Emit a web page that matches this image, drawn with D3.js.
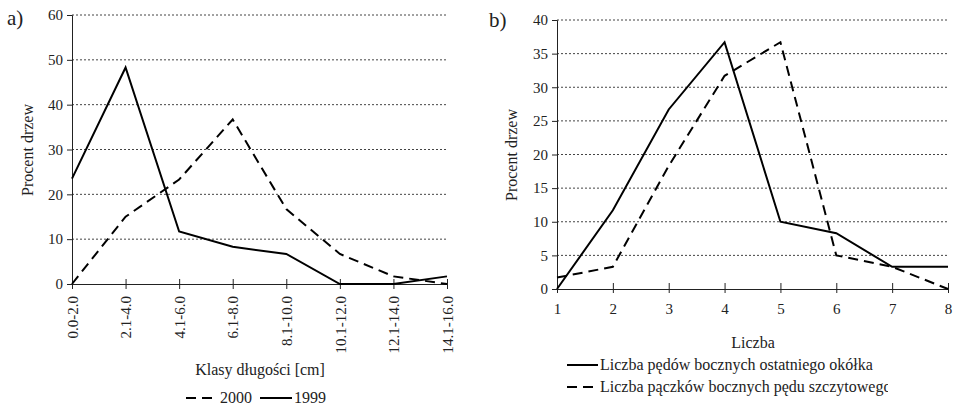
<!DOCTYPE html>
<html>
<head>
<meta charset="utf-8">
<script src="https://cdn.jsdelivr.net/npm/d3@7"></script>
<style>
  body { margin: 0; background: #fff; }
  svg text { font-family: "Liberation Serif", "DejaVu Serif", serif !important; }
</style>
</head>
<body>
<svg width="955" height="407" font-family="Liberation Serif"></svg>
<script>

// chart a) data
const classes = ['0.0-2.0', '2.1-4.0', '4.1-6.0', '6.1-8.0', '8.1-10.0', '10.1-12.0', '12.1-14.0', '14.1-16.0'];
const y1999 = [23.5, 48.3, 11.7, 8.3, 6.7, 0, 0, 1.7];
const y2000 = [0, 15, 23.3, 36.7, 16.7, 6.7, 1.7, 0];
const ticksA = [0, 10, 20, 30, 40, 50, 60];

// chart b) data
const counts = [1, 2, 3, 4, 5, 6, 7, 8];
const pedy = [0, 11.7, 26.7, 36.7, 10, 8.3, 3.3, 3.3];
const paczki = [1.7, 3.3, 18.3, 31.7, 36.7, 5, 3.3, 0];
const ticksB = [0, 5, 10, 15, 20, 25, 30, 35, 40];

const svg = d3.select('svg');
const fs = 15;   // tick labels
const fl = 16;   // titles, legend
const ink = '#222';

// ---------- a) ----------
const xA = d3.scalePoint().domain(classes).range([72, 447]);
const yA = d3.scaleLinear().domain([0, 60]).range([284, 15]);

const gA = svg.append('g');

// grid
gA.selectAll('.grid')
    .data(ticksA.filter(d => d > 0))
    .enter()
    .append('line')
        .attr('x1', 72).attr('x2', 447)
        .attr('y1', d => yA(d)).attr('y2', d => yA(d))
        .attr('stroke', '#444')
        .attr('stroke-width', 1)
        .attr('stroke-dasharray', '2,2');

// y axis
gA.append('g')
    .attr('transform', 'translate(72,0)')
    .call(d3.axisLeft(yA).tickValues(ticksA).tickSize(5).tickPadding(4))
    .attr('font-family', null).attr('font-size', fs)
    .call(g => g.selectAll('text').attr('fill', ink))
    .call(g => g.selectAll('line, path').attr('stroke', ink));

// x axis
const xAxA = gA.append('g')
    .attr('transform', 'translate(0,284)')
    .call(d3.axisBottom(xA).tickSize(0).tickSizeOuter(0).tickPadding(0))
    .attr('font-family', null).attr('font-size', fs)
    .call(g => g.selectAll('path').attr('stroke', ink));
xAxA.selectAll('.tick line').attr('y1', -5).attr('y2', 5).attr('stroke', ink);
xAxA.selectAll('.tick text')
    .attr('fill', ink)
    .attr('text-anchor', 'end')
    .attr('dy', '0.35em')
    .attr('transform', 'translate(0,12) rotate(-90)');

const lineA = vals => d3.line().x((d, i) => xA(classes[i])).y(d => yA(d))(vals);

gA.append('path')
    .attr('d', lineA(y2000))
    .attr('fill', 'none').attr('stroke', '#000').attr('stroke-width', 2)
    .attr('stroke-dasharray', '10,6');
gA.append('path')
    .attr('d', lineA(y1999))
    .attr('fill', 'none').attr('stroke', '#000').attr('stroke-width', 2);

gA.append('text').attr('x', 7).attr('y', 25).attr('font-size', 21).attr('fill', ink).text('a)');
gA.append('text')
    .attr('transform', 'translate(33,150) rotate(-90)')
    .attr('text-anchor', 'middle').attr('font-size', fl).attr('fill', ink)
    .text('Procent drzew');
gA.append('text')
    .attr('x', 260).attr('y', 375)
    .attr('text-anchor', 'middle').attr('font-size', fl).attr('fill', ink)
    .text('Klasy długości [cm]');

// legend a)
gA.append('line').attr('x1', 186).attr('x2', 218).attr('y1', 398).attr('y2', 398)
    .attr('stroke', '#000').attr('stroke-width', 2).attr('stroke-dasharray', '10,6');
gA.append('text').attr('x', 220).attr('y', 403).attr('font-size', fl).attr('fill', ink).text('2000');
gA.append('line').attr('x1', 260).attr('x2', 292).attr('y1', 398).attr('y2', 398)
    .attr('stroke', '#000').attr('stroke-width', 2);
gA.append('text').attr('x', 294).attr('y', 403).attr('font-size', fl).attr('fill', ink).text('1999');

// ---------- b) ----------
const xB = d3.scaleLinear().domain([1, 8]).range([557, 948]);
const yB = d3.scaleLinear().domain([0, 40]).range([289, 20]);

const gB = svg.append('g');

gB.selectAll('.grid')
    .data(ticksB.filter(d => d > 0))
    .enter()
    .append('line')
        .attr('x1', 557).attr('x2', 948)
        .attr('y1', d => yB(d)).attr('y2', d => yB(d))
        .attr('stroke', '#444')
        .attr('stroke-width', 1)
        .attr('stroke-dasharray', '2,2');

gB.append('g')
    .attr('transform', 'translate(557,0)')
    .call(d3.axisLeft(yB).tickValues(ticksB).tickSize(5).tickPadding(4))
    .attr('font-family', null).attr('font-size', fs)
    .call(g => g.selectAll('text').attr('fill', ink))
    .call(g => g.selectAll('line, path').attr('stroke', ink));

const xAxB = gB.append('g')
    .attr('transform', 'translate(0,289)')
    .call(d3.axisBottom(xB).tickValues(counts).tickFormat(d3.format('d')).tickSize(0).tickSizeOuter(0).tickPadding(14))
    .attr('font-family', null).attr('font-size', fs)
    .call(g => g.selectAll('path').attr('stroke', ink));
xAxB.selectAll('.tick line').attr('y1', -6).attr('y2', 4).attr('stroke', ink);
xAxB.selectAll('.tick text').attr('fill', ink);

const lineB = vals => d3.line().x((d, i) => xB(counts[i])).y(d => yB(d))(vals);

gB.append('path')
    .attr('d', lineB(paczki))
    .attr('fill', 'none').attr('stroke', '#000').attr('stroke-width', 2)
    .attr('stroke-dasharray', '10,6');
gB.append('path')
    .attr('d', lineB(pedy))
    .attr('fill', 'none').attr('stroke', '#000').attr('stroke-width', 2);

gB.append('text').attr('x', 489).attr('y', 27).attr('font-size', 21).attr('fill', ink).text('b)');
gB.append('text')
    .attr('transform', 'translate(517,155) rotate(-90)')
    .attr('text-anchor', 'middle').attr('font-size', fl).attr('fill', ink)
    .text('Procent drzew');
gB.append('text')
    .attr('x', 753).attr('y', 348)
    .attr('text-anchor', 'middle').attr('font-size', fl).attr('fill', ink)
    .text('Liczba');

// legend b), clipped on the right like the original
svg.append('clipPath').attr('id', 'legclip')
    .append('rect').attr('x', 550).attr('y', 350).attr('width', 338).attr('height', 57);
const legB = gB.append('g').attr('clip-path', 'url(#legclip)');
legB.append('line').attr('x1', 567).attr('x2', 598).attr('y1', 365).attr('y2', 365)
    .attr('stroke', '#000').attr('stroke-width', 2);
legB.append('text').attr('x', 600).attr('y', 370).attr('font-size', fl).attr('fill', ink)
    .text('Liczba pędów bocznych ostatniego okółka');
legB.append('line').attr('x1', 567).attr('x2', 598).attr('y1', 387).attr('y2', 387)
    .attr('stroke', '#000').attr('stroke-width', 2).attr('stroke-dasharray', '10,6');
legB.append('text').attr('x', 600).attr('y', 392).attr('font-size', fl).attr('fill', ink)
    .text('Liczba pączków bocznych pędu szczytowego');

</script>
</body>
</html>
